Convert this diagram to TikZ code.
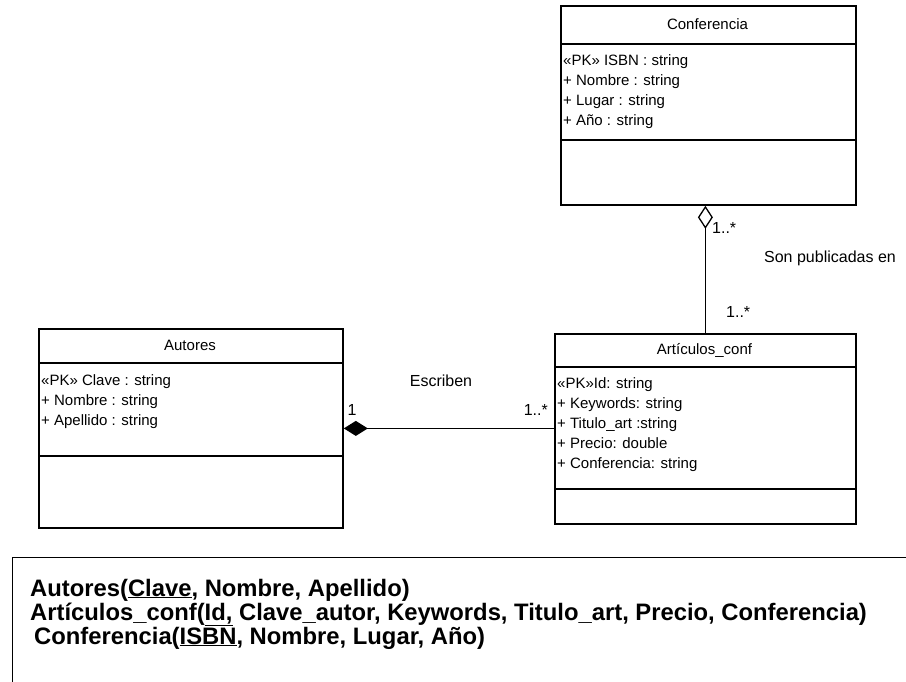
\documentclass[tikz,border=0pt]{standalone}
\usepackage{fontspec}
\setmainfont{Liberation Sans}
\usetikzlibrary{arrows.meta}

\begin{document}
\begin{tikzpicture}[x=1pt,y=-1pt,
  classbox/.style={draw, line width=1.8pt, inner sep=0pt, anchor=north west},
  compsep/.style={line width=1.8pt},
  classname/.style={font=\fontsize{15}{18}\selectfont, inner sep=0pt},
  attrs/.style={font=\fontsize{15}{20}\selectfont, align=left, anchor=north west, inner sep=0pt},
  lbl/.style={font=\fontsize{16}{18}\selectfont, inner sep=0pt},
  assoc/.style={line width=1.3pt},
  relline/.style={font=\bfseries\fontsize{23.8}{24}\selectfont, anchor=base west, inner sep=0pt}]

\useasboundingbox (0,0) rectangle (906,681);

% Conferencia
\node[classbox, minimum width=295pt, minimum height=199pt] (conf) at (560,5) {};
\node[classname] (confname) at (707.5,24) {Conferencia};
\draw[compsep] (560,44) -- (855,44);
\node[attrs] (confattr) at (563,54) {«PK» ISBN : string\\+ Nombre : string\\+ Lugar : string\\+ Año : string};
\draw[compsep] (560,140) -- (855,140);

% Autores
\node[classbox, minimum width=304pt, minimum height=199pt] (aut) at (38,328) {};
\node[classname] (autname) at (190,345) {Autores};
\draw[compsep] (38,363) -- (342,363);
\node[attrs] (autattr) at (41,374) {«PK» Clave : string\\+ Nombre : string\\+ Apellido : string};
\draw[compsep] (38,456) -- (342,456);

% Articulos_conf
\node[classbox, minimum width=301pt, minimum height=190pt] (art) at (554,333) {};
\node[classname] (artname) at (704.5,350) {Artículos\_conf};
\draw[compsep] (554,367) -- (855,367);
\node[attrs] (artattr) at (557,377) {«PK»Id: string\\+ Keywords: string\\+ Titulo\_art :string\\+ Precio: double\\+ Conferencia: string};
\draw[compsep] (554,489) -- (855,489);

% Associations
\draw[assoc, {Diamond[open, fill=white, length=23pt, width=15pt]}-]
  (art.north |- conf.south) -- (art.north);
\draw[assoc, {Diamond[length=24pt, width=15pt]}-]
  (aut.east) -- (aut.east -| art.west);

% Association labels
\node[lbl, anchor=west] (m1) at (712,228) {1..*};
\node[lbl] (pub) at (830,258) {Son publicadas en};
\node[lbl, anchor=west] (m2) at (726,312) {1..*};
\node[lbl] (one) at (352,410) {1};
\node[lbl, anchor=east] (m3) at (548,410) {1..*};
\node[lbl] (esc) at (441,381) {Escriben};

% Relational schema
\node[draw, line width=1.3pt, anchor=north west, inner sep=0pt,
      minimum width=920pt, minimum height=140pt] (schema) at (12,557) {};
\node[relline] (r1) at (30,596) {Autores(\underline{Clave}, Nombre, Apellido)};
\node[relline] (r2) at (30,620) {Artículos\_conf(\underline{Id,} Clave\_autor, Keywords, Titulo\_art, Precio, Conferencia)};
\node[relline] (r3) at (34,644) {Conferencia(\underline{ISBN}, Nombre, Lugar, Año)};

\end{tikzpicture}
\end{document}
